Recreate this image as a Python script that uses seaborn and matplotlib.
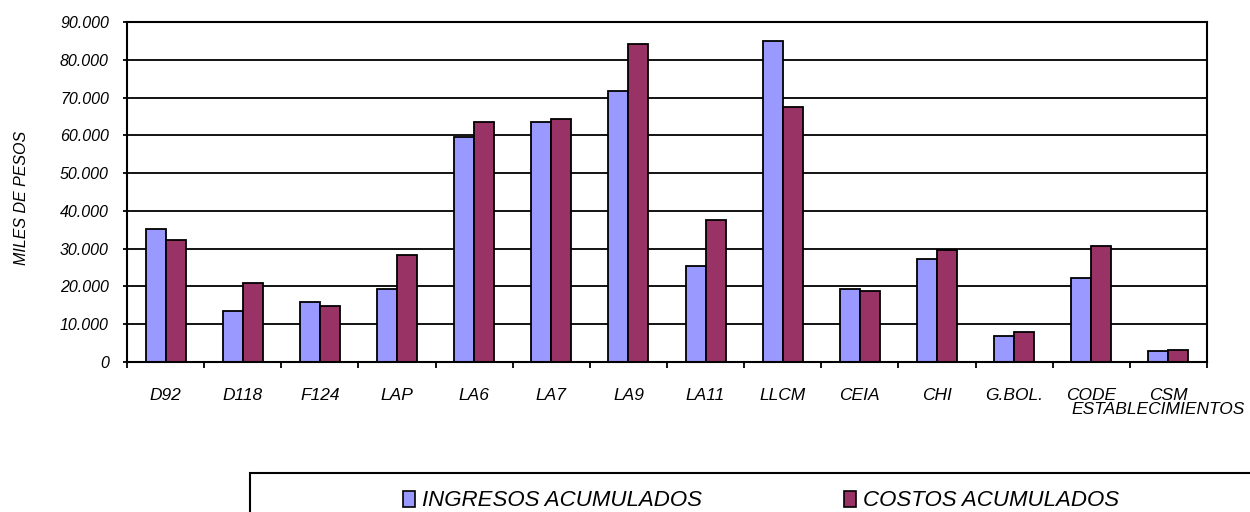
import pandas as pd
import matplotlib
matplotlib.use("Agg")
import matplotlib.pyplot as plt
from matplotlib.patches import Rectangle, Patch
from matplotlib.ticker import FuncFormatter, FixedLocator
import seaborn as sns

# data (miles de pesos)
establecimientos = ["D92", "D118", "F124", "LAP", "LA6", "LA7", "LA9", "LA11",
                    "LLCM", "CEIA", "CHI", "G.BOL.", "CODE", "CSM"]
ingresos = [35200, 13500, 15800, 19300, 59600, 63600, 71700, 25500,
            85100, 19300, 27300, 6800, 22200, 2800]
costos = [32400, 20900, 14800, 28400, 63600, 64200, 84200, 37500,
          67600, 18700, 29600, 7900, 30600, 3300]
series_names = ["INGRESOS ACUMULADOS", "COSTOS ACUMULADOS"]
colors = ["#9999FF", "#993366"]

df = pd.DataFrame({
    "est": establecimientos * 2,
    "valor": ingresos + costos,
    "serie": [series_names[0]] * len(ingresos) + [series_names[1]] * len(costos),
})

sns.set_style("white")
plt.rcParams["font.family"] = ["Liberation Sans", "DejaVu Sans"]
plt.rcParams["font.style"] = "italic"
plt.rcParams["text.color"] = "black"
plt.rcParams["xtick.color"] = "black"
plt.rcParams["ytick.color"] = "black"
plt.rcParams["xtick.bottom"] = True
plt.rcParams["ytick.left"] = True

fig = plt.figure(figsize=(12.5, 5.12), dpi=100)
ax = fig.add_axes([127 / 1250, 1 - 362 / 512, (1207 - 127) / 1250, (362 - 22) / 512])

sns.barplot(data=df, x="est", y="valor", hue="serie", palette=colors,
            width=0.52, gap=0, edgecolor="black", linewidth=1.3,
            saturation=1, ax=ax, legend=False)

ax.set_ylim(0, 90000)
ax.set_xlim(-0.5, len(establecimientos) - 0.5)
ax.set_yticks(range(0, 90001, 10000))
ax.yaxis.set_major_formatter(FuncFormatter(lambda v, p: f"{int(v):,}".replace(",", ".")))
ax.set_axisbelow(True)
ax.yaxis.grid(True, color="black", linewidth=1.3)
for s in ax.spines.values():
    s.set_color("black")
    s.set_linewidth(1.5)

ax.set_xlabel("")
ax.set_ylabel("")
ax.tick_params(axis="y", direction="out", length=3, width=1.3, color="black",
               pad=10, labelsize=11.5)
ax.tick_params(axis="x", which="major", length=0, pad=19, labelsize=12.5)
ax.xaxis.set_minor_locator(FixedLocator([i + 0.5 for i in range(-1, len(establecimientos))]))
ax.tick_params(axis="x", which="minor", direction="out", length=4, width=1.3, color="black")
for lbl in ax.get_xticklabels() + ax.get_yticklabels():
    lbl.set_fontstyle("italic")

fig.text(22 / 1250, 1 - 198 / 512, "MILES DE PESOS", rotation=90, ha="center",
         va="center", fontsize=11.5, style="italic")
fig.text(1245 / 1250, 1 - 410 / 512, "ESTABLECIMIENTOS", ha="right",
         va="center", fontsize=12.5, style="italic")

# legend box, cut off at the right and bottom edges as in the reference
fig.patches.append(Rectangle((250 / 1250, -0.05), 0.9, 0.05 + 1 - 473 / 512,
                             transform=fig.transFigure, fill=False,
                             edgecolor="black", linewidth=1.5))
handles = [Patch(facecolor=c, edgecolor="black", linewidth=1.2) for c in colors]
fig.legend(handles, series_names, loc="center", ncol=2, frameon=False,
           bbox_to_anchor=(761 / 1250, 1 - 501 / 512),
           handlelength=0.55, handleheight=0.7, handletextpad=0.3,
           columnspacing=6.4, prop={"style": "italic", "size": 16})

fig.savefig("out.png", dpi=100)
